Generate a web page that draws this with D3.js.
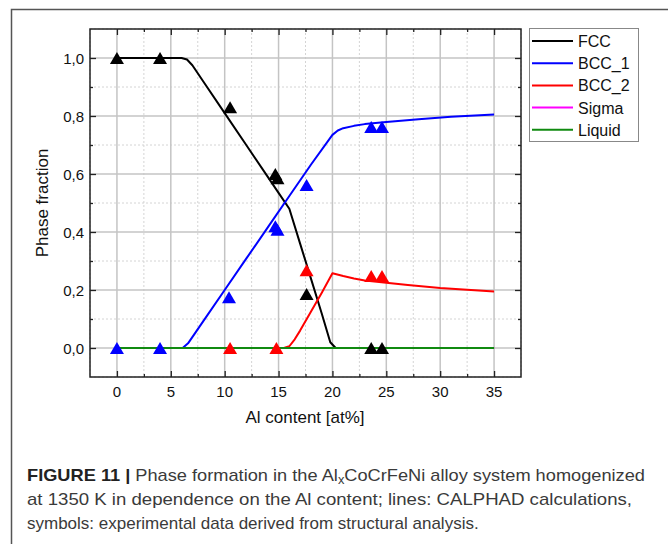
<!DOCTYPE html>
<html>
<head>
<meta charset="utf-8">
<script src="https://cdn.jsdelivr.net/npm/d3@7"></script>
<style>
  html, body { margin: 0; padding: 0; background: #fff; }
  svg { display: block; font-family: "Liberation Sans", Arial, sans-serif; }
</style>
</head>
<body>
<svg id="chart" width="668" height="544"></svg>
<script>
// CALPHAD curves (x = Al content in at%)
var fccX = [0, 6, 6.5, 7, 8, 10, 12, 14, 15, 16, 17, 18, 19, 19.8, 20.3, 35];
var fccY = [1, 1, 0.995, 0.975, 0.92, 0.81, 0.70, 0.59, 0.535, 0.48, 0.36, 0.24, 0.12, 0.02, 0, 0];
var bcc1X = [0, 6.1, 6.6, 8, 10, 12, 14, 16, 18, 20, 20.5, 21, 22, 23, 25, 28, 31, 35];
var bcc1Y = [0, 0, 0.016, 0.092, 0.2, 0.308, 0.416, 0.524, 0.632, 0.735, 0.75, 0.758, 0.766, 0.772, 0.779, 0.789, 0.797, 0.805];
var bcc2X = [0, 15.5, 16, 16.5, 17, 18, 19, 20, 21, 22, 23, 25, 27, 30, 35];
var bcc2Y = [0, 0, 0.006, 0.03, 0.06, 0.125, 0.19, 0.2575, 0.248, 0.24, 0.233, 0.225, 0.217, 0.207, 0.195];
var sigmaX = [0, 35];
var sigmaY = [0, 0];
var liquidX = [0, 35];
var liquidY = [0, 0];

// experimental points (triangles)
var fccExpX = [0, 4, 10.5, 14.7, 14.9, 17.6, 23.6, 24.6];
var fccExpY = [1, 1, 0.83, 0.60, 0.585, 0.186, 0, 0];
var bcc1ExpX = [0, 4, 10.4, 14.7, 14.9, 17.6, 23.6, 24.6];
var bcc1ExpY = [0, 0, 0.175, 0.42, 0.408, 0.562, 0.762, 0.762];
var bcc2ExpX = [10.5, 14.8, 17.6, 23.6, 24.6];
var bcc2ExpY = [0, 0, 0.268, 0.248, 0.248];

var xTicks = [0, 5, 10, 15, 20, 25, 30, 35];
var yTicks = [0, 0.2, 0.4, 0.6, 0.8, 1.0];
var xMinor = [-2.5, 2.5, 7.5, 12.5, 17.5, 22.5, 27.5, 32.5, 37.5];
var yMinor = [-0.1, 0.1, 0.3, 0.5, 0.7, 0.9, 1.1];

var legendNames = ["FCC", "BCC_1", "BCC_2", "Sigma", "Liquid"];
var colors = ["#000000", "#0000ff", "#ff0000", "#ff00ff", "#108a10"];

(function () {
  var svg = d3.select("#chart");
  var pLeft = 90, pRight = 521, pTop = 29, pBottom = 377;

  var x = d3.scaleLinear().domain([-2.5, 37.5]).range([pLeft, pRight]);
  var y = d3.scaleLinear().domain([-0.1, 1.1]).range([pBottom, pTop]);

  // outer frame
  svg.append("path")
    .attr("d", "M11.5,560 V9.5 H680")
    .attr("fill", "none")
    .attr("stroke", "#555")
    .attr("stroke-width", 1.5);

  // grid
  var grid = svg.append("g");
  grid.selectAll("line.vmin").data(xMinor).join("line")
    .attr("x1", function (d) { return x(d); }).attr("x2", function (d) { return x(d); })
    .attr("y1", pTop).attr("y2", pBottom)
    .attr("stroke", "#d4d4d4").attr("stroke-width", 1).attr("stroke-dasharray", "2,2");
  grid.selectAll("line.hmin").data(yMinor).join("line")
    .attr("y1", function (d) { return y(d); }).attr("y2", function (d) { return y(d); })
    .attr("x1", pLeft).attr("x2", pRight)
    .attr("stroke", "#d4d4d4").attr("stroke-width", 1).attr("stroke-dasharray", "2,2");
  grid.selectAll("line.vmaj").data(xTicks).join("line")
    .attr("x1", function (d) { return x(d); }).attr("x2", function (d) { return x(d); })
    .attr("y1", pTop).attr("y2", pBottom)
    .attr("stroke", "#c4c4c4").attr("stroke-width", 1.5);
  grid.selectAll("line.hmaj").data(yTicks).join("line")
    .attr("y1", function (d) { return y(d); }).attr("y2", function (d) { return y(d); })
    .attr("x1", pLeft).attr("x2", pRight)
    .attr("stroke", "#c4c4c4").attr("stroke-width", 1.5);

  // axes with inward ticks on all four sides
  function axisSet(axis, scale, values, len) {
    return axis(scale).tickValues(values).tickSize(len).tickFormat("");
  }
  var axStroke = "#222";
  function styleAxis(g) {
    g.select(".domain").remove();
    g.selectAll("line").attr("stroke", axStroke).attr("stroke-width", 1.3);
  }
  var xMinorIn = xMinor.slice(1, -1), yMinorIn = yMinor.slice(1, -1);
  svg.append("g").attr("transform", "translate(0," + pBottom + ")")
    .call(axisSet(d3.axisTop, x, xTicks, 6)).call(styleAxis);
  svg.append("g").attr("transform", "translate(0," + pBottom + ")")
    .call(axisSet(d3.axisTop, x, xMinorIn, 3)).call(styleAxis);
  svg.append("g").attr("transform", "translate(0," + pTop + ")")
    .call(axisSet(d3.axisBottom, x, xTicks, 6)).call(styleAxis);
  svg.append("g").attr("transform", "translate(0," + pTop + ")")
    .call(axisSet(d3.axisBottom, x, xMinorIn, 3)).call(styleAxis);
  svg.append("g").attr("transform", "translate(" + pLeft + ",0)")
    .call(axisSet(d3.axisRight, y, yTicks, 6)).call(styleAxis);
  svg.append("g").attr("transform", "translate(" + pLeft + ",0)")
    .call(axisSet(d3.axisRight, y, yMinorIn, 3)).call(styleAxis);
  svg.append("g").attr("transform", "translate(" + pRight + ",0)")
    .call(axisSet(d3.axisLeft, y, yTicks, 6)).call(styleAxis);
  svg.append("g").attr("transform", "translate(" + pRight + ",0)")
    .call(axisSet(d3.axisLeft, y, yMinorIn, 3)).call(styleAxis);

  // tick labels
  var fmt = function (d) { return d3.format(".1f")(d).replace(".", ","); };
  svg.append("g").selectAll("text").data(xTicks).join("text")
    .attr("x", function (d) { return x(d); })
    .attr("y", 397)
    .attr("text-anchor", "middle")
    .attr("font-size", 15).attr("fill", "#111")
    .text(function (d) { return d; });
  svg.append("g").selectAll("text").data(yTicks).join("text")
    .attr("x", 84)
    .attr("y", function (d) { return y(d) + 5.5; })
    .attr("text-anchor", "end")
    .attr("font-size", 15).attr("fill", "#111")
    .text(fmt);

  // axis titles
  svg.append("text")
    .attr("x", 305).attr("y", 423)
    .attr("text-anchor", "middle").attr("font-size", 17).attr("fill", "#111")
    .text("Al content [at%]");
  svg.append("text")
    .attr("transform", "translate(48,203) rotate(-90)")
    .attr("text-anchor", "middle").attr("font-size", 17).attr("fill", "#111")
    .text("Phase fraction");

  // curves
  svg.append("clipPath").attr("id", "plotClip").append("rect")
    .attr("x", pLeft).attr("y", pTop).attr("width", pRight - pLeft).attr("height", pBottom - pTop);
  var series = [
    { xs: fccX, ys: fccY },
    { xs: bcc1X, ys: bcc1Y },
    { xs: bcc2X, ys: bcc2Y },
    { xs: sigmaX, ys: sigmaY },
    { xs: liquidX, ys: liquidY }
  ];
  var line = d3.line()
    .x(function (d) { return x(d[0]); })
    .y(function (d) { return y(d[1]); });
  var curves = svg.append("g").attr("clip-path", "url(#plotClip)");
  series.forEach(function (s, i) {
    curves.append("path")
      .datum(d3.zip(s.xs, s.ys))
      .attr("d", line)
      .attr("fill", "none")
      .attr("stroke", colors[i])
      .attr("stroke-width", 2)
      .attr("stroke-linejoin", "round");
  });

  // experimental triangles
  var tri = "M0,-6 L7,6 L-7,6 Z";
  var expSets = [
    { xs: fccExpX, ys: fccExpY, color: colors[0] },
    { xs: bcc1ExpX, ys: bcc1ExpY, color: colors[1] },
    { xs: bcc2ExpX, ys: bcc2ExpY, color: colors[2] }
  ];
  expSets.forEach(function (s) {
    svg.append("g").selectAll("path").data(d3.zip(s.xs, s.ys)).join("path")
      .attr("d", tri)
      .attr("transform", function (d) { return "translate(" + x(d[0]) + "," + y(d[1]) + ")"; })
      .attr("fill", s.color);
  });

  // plot frame
  svg.append("rect")
    .attr("x", pLeft).attr("y", pTop).attr("width", pRight - pLeft).attr("height", pBottom - pTop)
    .attr("fill", "none").attr("stroke", axStroke).attr("stroke-width", 1.5);

  // legend
  var legend = svg.append("g");
  legend.append("rect")
    .attr("x", 529.5).attr("y", 28.5).attr("width", 109).attr("height", 113)
    .attr("fill", "#fff").attr("stroke", "#888").attr("stroke-width", 1);
  legendNames.forEach(function (name, i) {
    var ly = 41 + i * 22.2;
    legend.append("line")
      .attr("x1", 532).attr("x2", 573).attr("y1", ly).attr("y2", ly)
      .attr("stroke", colors[i]).attr("stroke-width", 2);
    legend.append("text")
      .attr("x", 578).attr("y", ly + 6)
      .attr("font-size", 16).attr("fill", "#111")
      .text(name);
  });

  // caption
  var cap = svg.append("g").attr("font-size", 17).attr("fill", "#3a3a3a");
  var l1 = cap.append("text").attr("x", 27).attr("y", 481)
    .attr("textLength", 618).attr("lengthAdjust", "spacingAndGlyphs");
  l1.append("tspan").attr("font-weight", "bold").attr("fill", "#222").text("FIGURE 11 | ");
  l1.append("tspan").text("Phase formation in the Al");
  l1.append("tspan").attr("font-size", 12).attr("dy", 3).text("x");
  l1.append("tspan").attr("dy", -3).text("CoCrFeNi alloy system homogenized");
  cap.append("text").attr("x", 27).attr("y", 505)
    .attr("textLength", 605).attr("lengthAdjust", "spacingAndGlyphs")
    .text("at 1350 K in dependence on the Al content; lines: CALPHAD calculations,");
  cap.append("text").attr("x", 27).attr("y", 529)
    .text("symbols: experimental data derived from structural analysis.");
})();
</script>
</body>
</html>
